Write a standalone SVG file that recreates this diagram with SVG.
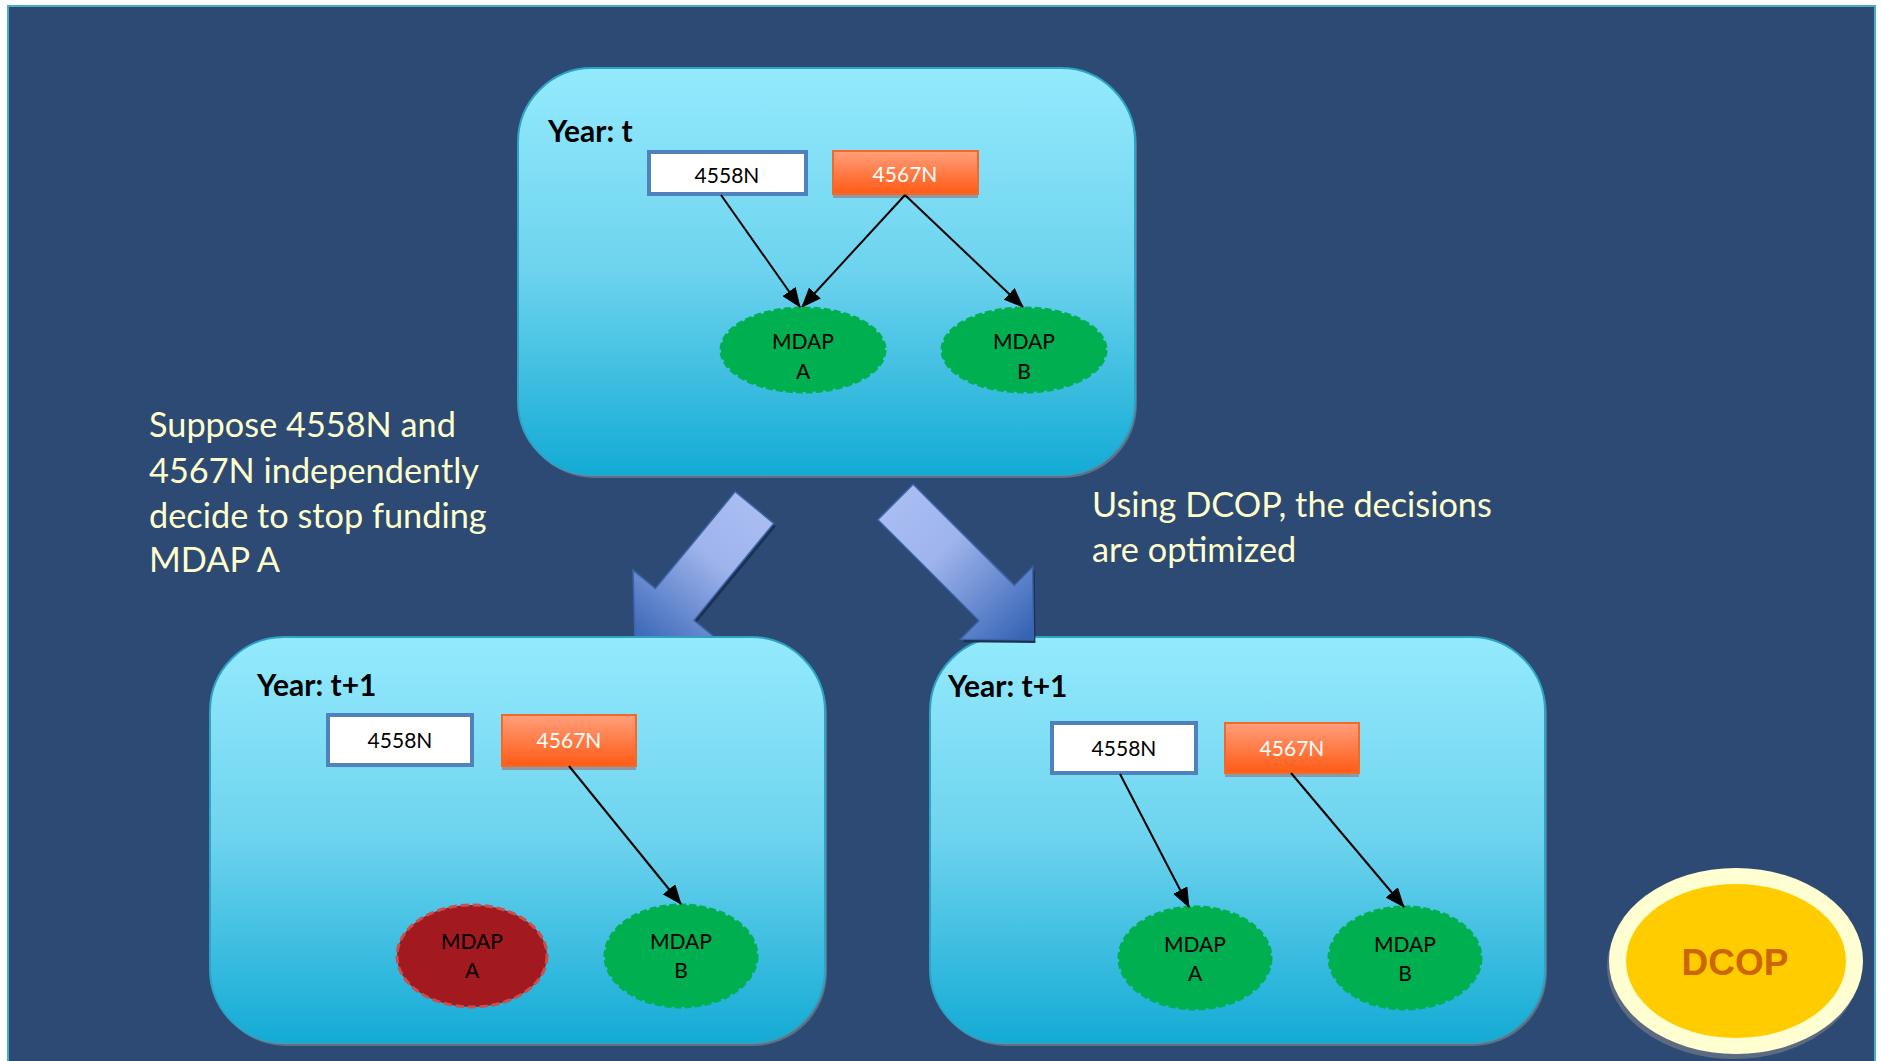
<svg xmlns="http://www.w3.org/2000/svg" width="1881" height="1061" viewBox="0 0 1881 1061">
  <defs>
    <linearGradient id="panelFill" x1="0" y1="0" x2="0" y2="1">
      <stop offset="0" stop-color="#94eafd"/>
      <stop offset="0.5" stop-color="#6dd3ee"/>
      <stop offset="1" stop-color="#13abd5"/>
    </linearGradient>
    <linearGradient id="orangeFill" x1="0" y1="0" x2="0" y2="1">
      <stop offset="0" stop-color="#ff9f7c"/>
      <stop offset="1" stop-color="#ff5a14"/>
    </linearGradient>
    <linearGradient id="bigArrowL" gradientUnits="userSpaceOnUse" x1="754" y1="507" x2="635" y2="652">
      <stop offset="0" stop-color="#a9bdf3"/>
      <stop offset="0.35" stop-color="#9fb4ec"/>
      <stop offset="1" stop-color="#2f5fb2"/>
    </linearGradient>
    <linearGradient id="bigArrowR" gradientUnits="userSpaceOnUse" x1="895" y1="502" x2="1033" y2="640">
      <stop offset="0" stop-color="#a9bdf3"/>
      <stop offset="0.35" stop-color="#9fb4ec"/>
      <stop offset="1" stop-color="#2f5fb2"/>
    </linearGradient>
    <marker id="head" viewBox="0 0 20 16" refX="19" refY="8" markerWidth="20" markerHeight="16" markerUnits="userSpaceOnUse" orient="auto">
      <path d="M0,0 L20,8 L0,16 Z" fill="#000"/>
    </marker>
    <style>
      .panel { fill: url(#panelFill); stroke: #2ea3c4; stroke-width: 2; }
      .panelShadow { fill: #5f6f86; }
      .year { font-family: Lato, "Liberation Sans", sans-serif; font-weight: bold; font-size: 30px; fill: #000; }
      .boxW { fill: #fff; stroke: #4f81bd; stroke-width: 4; }
      .boxO { fill: url(#orangeFill); stroke: #f26a2a; stroke-width: 2; }
      .boxShadow { fill: #8a9aa8; }
      .boxTxt { font-family: Lato, "Liberation Sans", sans-serif; font-size: 21px; text-anchor: middle; }
      .ellG { fill: #00b050; stroke: #00b050; stroke-width: 3; stroke-dasharray: 7 3; }
      .ellR { fill: #a31920; stroke: #c9504f; stroke-width: 3; stroke-dasharray: 8 4; }
      .ellTxt { font-family: Lato, "Liberation Sans", sans-serif; font-size: 21px; text-anchor: middle; fill: #000; }
      .note { font-family: Lato, "Liberation Sans", sans-serif; font-size: 34.3px; fill: #ffffcc; }
      .link { stroke: #000; stroke-width: 2; fill: none; marker-end: url(#head); }
    </style>
  </defs>

  <!-- slide background -->
  <rect x="8" y="6" width="1867" height="1070" fill="#2c4a74" stroke="#4bacc6" stroke-width="2"/>

  <!-- big transition arrows (left one sits behind the lower-left panel) -->
  <g id="arrow-left">
    <path d="M737.2,494.6 L775.8,526.4 L696,623.3 L718.4,641.7 L637.3,655.3 L635,573.1 L657.4,591.5 Z" fill="#1c3050"/>
    <path d="M735.2,491.6 L773.8,523.4 L694,620.3 L716.4,638.7 L635.3,652.3 L633,570.1 L655.4,588.5 Z" fill="url(#bigArrowL)" stroke="#3d64a8" stroke-width="1.5"/>
  </g>

  <!-- top panel: year t -->
  <g id="panel-t">
    <rect class="panelShadow" x="520" y="71" width="617" height="407" rx="74"/>
    <rect class="panel" x="518" y="68" width="617" height="407" rx="74"/>
    <text class="year" x="548" y="142">Year: t</text>
  </g>

  <!-- lower-left panel: year t+1 without coordination -->
  <g id="panel-t1-indep">
    <rect class="panelShadow" x="212" y="640" width="615" height="406" rx="74"/>
    <rect class="panel" x="210" y="637" width="615" height="406" rx="74"/>
    <text class="year" x="257" y="696">Year: t+1</text>
  </g>

  <!-- lower-right panel: year t+1 with DCOP -->
  <g id="panel-t1-dcop">
    <rect class="panelShadow" x="932" y="640" width="615" height="406" rx="74"/>
    <rect class="panel" x="930" y="637" width="615" height="406" rx="74"/>
    <text class="year" x="948" y="697">Year: t+1</text>
  </g>

  <g id="arrow-right">
    <path d="M915.2,487.3 L879.8,522.7 L980.9,623.8 L962.5,642.2 L1035.4,642.9 L1034.7,570 L1016.3,588.4 Z" fill="#1c3050"/>
    <path d="M913.2,484.3 L877.8,519.7 L978.9,620.8 L960.5,639.2 L1033.4,639.9 L1032.7,567 L1014.3,585.4 Z" fill="url(#bigArrowR)" stroke="#3d64a8" stroke-width="1.5"/>
  </g>

  <!-- year t nodes -->
  <g id="t-4558N">
    <rect class="boxW" x="649" y="152" width="157" height="42"/>
    <text class="boxTxt" x="727" y="183" fill="#000">4558N</text>
  </g>
  <g id="t-4567N">
    <rect class="boxShadow" x="833" y="194" width="145" height="4"/>
    <rect class="boxO" x="833" y="151" width="145" height="43"/>
    <text class="boxTxt" x="905" y="182" fill="#fff">4567N</text>
  </g>
  <g id="t-mdapA">
    <ellipse class="ellG" cx="803" cy="350" rx="82" ry="42"/>
    <text class="ellTxt" x="803" y="349">MDAP</text>
    <text class="ellTxt" x="803" y="379">A</text>
  </g>
  <g id="t-mdapB">
    <ellipse class="ellG" cx="1024" cy="350" rx="82" ry="42"/>
    <text class="ellTxt" x="1024" y="349">MDAP</text>
    <text class="ellTxt" x="1024" y="379">B</text>
  </g>

  <!-- independent year t+1 nodes -->
  <g id="i-4558N">
    <rect class="boxW" x="328" y="715" width="144" height="50"/>
    <text class="boxTxt" x="400" y="748" fill="#000">4558N</text>
  </g>
  <g id="i-4567N">
    <rect class="boxShadow" x="502" y="766" width="134" height="4"/>
    <rect class="boxO" x="502" y="715" width="134" height="51"/>
    <text class="boxTxt" x="569" y="748" fill="#fff">4567N</text>
  </g>
  <g id="i-mdapA">
    <ellipse class="ellR" cx="472" cy="956" rx="75" ry="51"/>
    <text class="ellTxt" x="472" y="949">MDAP</text>
    <text class="ellTxt" x="472" y="978">A</text>
  </g>
  <g id="i-mdapB">
    <ellipse class="ellG" cx="681" cy="956" rx="76" ry="51"/>
    <text class="ellTxt" x="681" y="949">MDAP</text>
    <text class="ellTxt" x="681" y="978">B</text>
  </g>

  <!-- DCOP year t+1 nodes -->
  <g id="d-4558N">
    <rect class="boxW" x="1052" y="723" width="144" height="50"/>
    <text class="boxTxt" x="1124" y="756" fill="#000">4558N</text>
  </g>
  <g id="d-4567N">
    <rect class="boxShadow" x="1225" y="773" width="134" height="4"/>
    <rect class="boxO" x="1225" y="723" width="134" height="50"/>
    <text class="boxTxt" x="1292" y="756" fill="#fff">4567N</text>
  </g>
  <g id="d-mdapA">
    <ellipse class="ellG" cx="1195" cy="958" rx="76" ry="51"/>
    <text class="ellTxt" x="1195" y="952">MDAP</text>
    <text class="ellTxt" x="1195" y="981">A</text>
  </g>
  <g id="d-mdapB">
    <ellipse class="ellG" cx="1405" cy="958" rx="76" ry="51"/>
    <text class="ellTxt" x="1405" y="952">MDAP</text>
    <text class="ellTxt" x="1405" y="981">B</text>
  </g>

  <!-- funding links -->
  <g id="connectors">
    <line class="link" x1="721" y1="195" x2="800" y2="307"/>
    <line class="link" x1="905" y1="195" x2="802" y2="307"/>
    <line class="link" x1="905" y1="195" x2="1023" y2="307"/>
    <line class="link" x1="569" y1="766" x2="681" y2="904"/>
    <line class="link" x1="1120" y1="774" x2="1189" y2="907"/>
    <line class="link" x1="1291" y1="773" x2="1404" y2="907"/>
  </g>

  <!-- DCOP badge -->
  <g id="dcop">
    <ellipse cx="1734" cy="966" rx="127" ry="93" fill="#5d6b80"/>
    <ellipse cx="1736" cy="961" rx="127" ry="93" fill="#ffffd2"/>
    <ellipse cx="1736" cy="961" rx="110" ry="77" fill="#ffcc00"/>
    <text x="1735" y="975" font-family="'Liberation Sans', Arial, sans-serif" font-weight="bold" font-size="37" fill="#cc6600" text-anchor="middle">DCOP</text>
  </g>

  <!-- explanatory notes -->
  <g id="note-left" class="note">
    <text x="149" y="437">Suppose 4558N and</text>
    <text x="149" y="483">4567N independently</text>
    <text x="149" y="528">decide to stop funding</text>
    <text x="149" y="572">MDAP A</text>
  </g>
  <g id="note-right" class="note">
    <text x="1092" y="517">Using DCOP, the decisions</text>
    <text x="1092" y="562">are optimized</text>
  </g>
</svg>
